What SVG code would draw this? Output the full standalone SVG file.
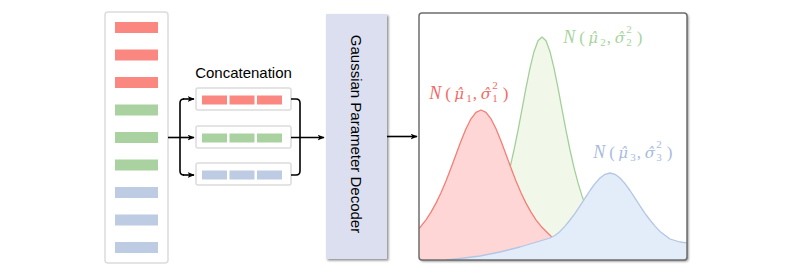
<svg xmlns="http://www.w3.org/2000/svg" width="792" height="275" viewBox="0 0 792 275">
<style>
.panel{fill:#fff;stroke:#dcdcdc;stroke-width:1.5}
.r{fill:#fa8880}.g{fill:#a9d2a0}.b{fill:#bdcce3}
.conn{fill:none;stroke:#000;stroke-width:1.6}
.lbl{font-family:"Liberation Sans",Arial,sans-serif;font-size:15px;fill:#000}
.math{font-family:"Liberation Serif","DejaVu Serif",serif;font-size:17px}
.it{font-style:italic}
.nn{font-size:18px}
.gr{font-family:"DejaVu Serif",serif;font-style:italic;font-size:15px}
.sm{font-size:11px}
</style>
<defs>
<marker id="ah" viewBox="0 0 10 8" refX="9" refY="4" markerWidth="7" markerHeight="6" markerUnits="userSpaceOnUse" orient="auto">
<path d="M0,0 L10,4 L0,8 L2.5,4 Z" fill="#000"/>
</marker>
<filter id="sh" x="-10%" y="-10%" width="130%" height="130%">
<feDropShadow dx="1.5" dy="1.5" stdDeviation="1" flood-color="#000" flood-opacity="0.45"/>
</filter>
<clipPath id="clip"><rect x="419" y="13" width="268" height="247"/></clipPath>
</defs>

<g id="embeddings">
<rect class="panel" x="105" y="12" width="63" height="251" rx="3"/>
<rect class="r" x="115" y="22" width="43" height="11"/>
<rect class="r" x="115" y="49.5" width="43" height="11"/>
<rect class="r" x="115" y="77" width="43" height="11"/>
<rect class="g" x="115" y="104.5" width="43" height="11"/>
<rect class="g" x="115" y="132" width="43" height="11"/>
<rect class="g" x="115" y="159.5" width="43" height="11"/>
<rect class="b" x="115" y="187" width="43" height="11"/>
<rect class="b" x="115" y="214.5" width="43" height="11"/>
<rect class="b" x="115" y="242" width="43" height="11"/>
</g>

<g id="concatenation">
<text class="lbl" x="243.5" y="78" text-anchor="middle">Concatenation</text>
<rect class="panel" x="196" y="88" width="95" height="22" rx="2"/>
<rect class="r" x="202" y="95.5" width="25" height="9"/>
<rect class="r" x="229.5" y="95.5" width="25" height="9"/>
<rect class="r" x="257" y="95.5" width="25" height="9"/>
<rect class="panel" x="196" y="126" width="95" height="22" rx="2"/>
<rect class="g" x="202" y="133.5" width="25" height="9"/>
<rect class="g" x="229.5" y="133.5" width="25" height="9"/>
<rect class="g" x="257" y="133.5" width="25" height="9"/>
<rect class="panel" x="196" y="163" width="95" height="22" rx="2"/>
<rect class="b" x="202" y="170.5" width="25" height="9"/>
<rect class="b" x="229.5" y="170.5" width="25" height="9"/>
<rect class="b" x="257" y="170.5" width="25" height="9"/>
</g>

<g id="decoder">
<rect x="326" y="14" width="61" height="245" fill="#dcdff0" filter="url(#sh)"/>
<text class="lbl" transform="translate(350.5,134) rotate(90)" text-anchor="middle">Gaussian Parameter Decoder</text>
</g>

<g id="distributions">
<rect x="419" y="13" width="268" height="247" rx="3" fill="#fff" filter="url(#sh)"/>
<g clip-path="url(#clip)">
<path d="M462,248.8 L472,243.3 L482,234.3 L492,219.7 L497,209.2 L502,195.9 L506,182.9 L510,167.6 L514,150 L518,130.3 L522,109.3 L526,87.9 L530,68.1 L534,51.7 L538,40.8 L542,37 L546,40.8 L550,51.7 L554,68.1 L558,87.9 L562,109.3 L566,130.3 L570,150 L574,167.6 L578,182.9 L582,195.9 L587,209.2 L592,219.7 L602,234.3 L612,243.3 L622,248.8 L622,261 L462,261 Z" fill="#f1f8ea"/>
<path d="M462,248.8 L472,243.3 L482,234.3 L492,219.7 L497,209.2 L502,195.9 L506,182.9 L510,167.6 L514,150 L518,130.3 L522,109.3 L526,87.9 L530,68.1 L534,51.7 L538,40.8 L542,37 L546,40.8 L550,51.7 L554,68.1 L558,87.9 L562,109.3 L566,130.3 L570,150 L574,167.6 L578,182.9 L582,195.9 L587,209.2 L592,219.7 L602,234.3 L612,243.3 L622,248.8" fill="none" stroke="#a3d09a" stroke-width="1.3" stroke-linejoin="round"/>
<path d="M419,228.5 L421,226.2 L426,219.8 L431,212.1 L436,203.1 L441,192.7 L446,180.9 L451,168 L456,154.5 L461,141.1 L466,128.8 L471,118.8 L476,112.3 L481,110 L486,112.3 L491,118.8 L496,128.8 L501,141.1 L506,154.5 L511,168 L516,180.9 L521,192.7 L526,203.1 L531,212.1 L536,219.8 L541,226.2 L551,236.2 L561,243 L571,247.7 L581,251 L600,255 L600,261 L418,261 Z" fill="#ffd6d6"/>
<path d="M419,228.5 L421,226.2 L426,219.8 L431,212.1 L436,203.1 L441,192.7 L446,180.9 L451,168 L456,154.5 L461,141.1 L466,128.8 L471,118.8 L476,112.3 L481,110 L486,112.3 L491,118.8 L496,128.8 L501,141.1 L506,154.5 L511,168 L516,180.9 L521,192.7 L526,203.1 L531,212.1 L536,219.8 L541,226.2 L551,236.2 L561,243 L571,247.7 L581,251 L600,255" fill="none" stroke="#f47f76" stroke-width="1.3" stroke-linejoin="round"/>
<path d="M446,260 L460,258.5 L480,256 L500,252 L520,247 L540,241 L550,238 L555,235.5 L560,231.4 L565,226.1 L570,220 L575,213.3 L580,205.8 L585,198.1 L590,190.5 L595,183.6 L600,178 L605,174.3 L610,173 L615,174.3 L620,178 L625,183.6 L630,190.5 L635,198.1 L640,205.8 L645,213.3 L650,220 L655,226.1 L660,231.4 L670,239 L680,242 L688,243 L688,261 L446,261 Z" fill="#e3ecf9"/>
<path d="M446,260 L460,258.5 L480,256 L500,252 L520,247 L540,241 L550,238 L555,235.5 L560,231.4 L565,226.1 L570,220 L575,213.3 L580,205.8 L585,198.1 L590,190.5 L595,183.6 L600,178 L605,174.3 L610,173 L615,174.3 L620,178 L625,183.6 L630,190.5 L635,198.1 L640,205.8 L645,213.3 L650,220 L655,226.1 L660,231.4 L670,239 L680,242 L688,243" fill="none" stroke="#b3c6e4" stroke-width="1.3" stroke-linejoin="round"/>
</g>
<rect x="419" y="13" width="268" height="247" rx="3" fill="none" stroke="#6e6e6e" stroke-width="1.5"/>
<text class="math" transform="translate(429.3,98.7)" fill="#f26a63"><tspan class="it nn" x="0" y="0">N</tspan><tspan x="16" y="0">(</tspan><tspan class="gr" x="25" y="0">μ̂</tspan><tspan class="sm" x="37" y="3.5">1</tspan><tspan x="43.5" y="0">,</tspan><tspan class="gr" x="51.5" y="0">σ̂</tspan><tspan class="sm" x="63" y="-9.5">2</tspan><tspan class="sm" x="63" y="3.5">1</tspan><tspan x="73.5" y="0">)</tspan></text>
<text class="math" transform="translate(563.3,42.5)" fill="#a6d49d"><tspan class="it nn" x="0" y="0">N</tspan><tspan x="16" y="0">(</tspan><tspan class="gr" x="25" y="0">μ̂</tspan><tspan class="sm" x="37" y="3.5">2</tspan><tspan x="43.5" y="0">,</tspan><tspan class="gr" x="51.5" y="0">σ̂</tspan><tspan class="sm" x="63" y="-9.5">2</tspan><tspan class="sm" x="63" y="3.5">2</tspan><tspan x="73.5" y="0">)</tspan></text>
<text class="math" transform="translate(593.3,157.5)" fill="#a7bbe0"><tspan class="it nn" x="0" y="0">N</tspan><tspan x="16" y="0">(</tspan><tspan class="gr" x="25" y="0">μ̂</tspan><tspan class="sm" x="37" y="3.5">3</tspan><tspan x="43.5" y="0">,</tspan><tspan class="gr" x="51.5" y="0">σ̂</tspan><tspan class="sm" x="63" y="-9.5">2</tspan><tspan class="sm" x="63" y="3.5">3</tspan><tspan x="73.5" y="0">)</tspan></text>
</g>

<g id="connectors">
<path class="conn" d="M168,137.5 H194" marker-end="url(#ah)"/>
<path class="conn" d="M184,99 Q180,99 180,103 V171 Q180,175 184,175" />
<path class="conn" d="M183,99 H194" marker-end="url(#ah)"/>
<path class="conn" d="M183,175 H194" marker-end="url(#ah)"/>
<path class="conn" d="M291,99 H296 Q300,99 300,103 V171 Q300,175 296,175 H291"/>
<path class="conn" d="M291,137.5 H324" marker-end="url(#ah)"/>
<path class="conn" d="M387,136.5 H417" marker-end="url(#ah)"/>
</g>
</svg>
